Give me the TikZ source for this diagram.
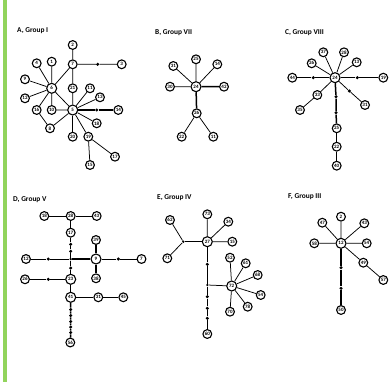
\documentclass[tikz,border=0pt]{standalone}
\usepackage{fontspec}
\setmainfont{Carlito}
\definecolor{barg}{RGB}{146,212,92}
\tikzset{
  nd/.style={circle,draw=black,line width=1.1pt,fill=white,minimum size=8.8pt,inner sep=0pt,font=\fontsize{5}{5}\selectfont\bfseries},
  hub/.style={nd,minimum size=10pt},
  dt/.style={circle,fill=black,minimum size=3.4pt,inner sep=0pt},
  ttl/.style={anchor=west,font=\fontsize{7.4}{8}\selectfont\bfseries,inner sep=0pt},
  ed/.style={line width=0.75pt},
  th/.style={line width=1.5pt}
}
\begin{document}
\begin{tikzpicture}[x=1pt,y=-1pt]
\useasboundingbox (0,0) rectangle (390,382);
\fill[barg] (3,0) rectangle (6.5,382);

% ---------- A ----------
\node[ttl] (tA) at (17,31) {A, Group I};
\node[nd] (a2) at (72.7,45) {2};
\node[nd] (a7) at (72.7,64.3) {7};
\node[dt] (ad1) at (97.7,64.3) {};
\node[nd] (a3) at (121.7,64.3) {3};
\node[nd] (a1) at (51.7,61.7) {1};
\node[nd] (a4) at (36.7,63.3) {4};
\node[hub] (a6) at (51.7,88.3) {6};
\node[nd] (a9) at (25,79.3) {9};
\node[nd] (a12) at (25,98.3) {12};
\node[nd] (a16) at (36.7,110) {16};
\node[nd] (a10) at (51.7,110) {10};
\node[nd] (a21) at (72.7,88.3) {21};
\node[nd] (a11) at (90,88.3) {11};
\node[nd] (a13) at (100,97.3) {13};
\node[hub] (a5) at (72.7,110) {5};
\node[dt] (ad2) at (96.7,110) {};
\node[nd] (a14) at (118.3,110) {14};
\node[nd] (a18) at (96.7,123.3) {18};
\node[nd] (a8) at (50,128.3) {8};
\node[nd] (a20) at (72.7,136.7) {20};
\node[nd] (a19) at (88.3,136.7) {19};
\node[nd] (a17) at (115,156.7) {17};
\node[nd] (a15) at (90,165) {15};
\draw[ed] (a2)--(a7) (a7)--(ad1)--(a3) (a7)--(a6) (a7)--(a21)--(a5);
\draw[ed] (a1)--(a6) (a4)--(a6) (a9)--(a6) (a12)--(a6) (a16)--(a6) (a6)--(a10) (a6)--(a5);
\draw[ed] (a10)--(a5) (a11)--(a5) (a13)--(a5) (a5)--(a18) (a5)--(a8) (a5)--(a19) (a16)--(a8);
\draw[th] (a5)--(ad2)--(a14) (a5)--(a20);
\draw[ed] (a19)--(a17) (a19)--(a15);

% ---------- B ----------
\node[ttl] (tB) at (155,33) {B, Group VII};
\node[hub] (b24) at (196,86.7) {24};
\node[nd] (b25) at (196,59.3) {25};
\node[nd] (b31) at (173.3,66) {31};
\node[nd] (b14) at (217.3,64.3) {14};
\node[nd] (b30) at (170,86.7) {30};
\node[nd] (b42) at (224,86.7) {42};
\node[nd] (b26) at (196.7,113.3) {26};
\node[nd] (b22) at (181.7,136.7) {22};
\node[nd] (b11) at (213.3,136.7) {11};
\draw[ed] (b24)--(b25) (b24)--(b31) (b24)--(b14) (b24)--(b30);
\draw[th] (b24)--(b42) (b24)--(b26);
\draw[ed] (b26)--(b22) (b26)--(b11);

% ---------- C ----------
\node[ttl] (tC) at (285,33) {C, Group VIII};
\node[hub] (c24) at (335,77.7) {24};
\node[nd] (c37) at (323.3,52.3) {37};
\node[nd] (c28) at (344,52.3) {28};
\node[nd] (c26) at (311.7,63.3) {26};
\node[nd] (c13) at (356.7,62.3) {13};
\node[dt] (cd1) at (313.3,77.7) {};
\node[nd] (c44) at (292.3,77.7) {44};
\node[dt] (cd2) at (357.3,77.7) {};
\node[nd] (c19) at (383.3,77.7) {19};
\node[nd] (c33) at (317.3,95) {33};
\node[nd] (c35) at (300,110) {35};
\node[dt] (cd3) at (349.3,91) {};
\node[nd] (c31) at (365,105) {31};
\node[dt] (cd4) at (336,96.7) {};
\node[dt] (cd5) at (336,112.7) {};
\node[nd] (c25) at (336.7,128.3) {25};
\node[nd] (c22) at (336.7,146.7) {22};
\node[nd] (c40) at (336.7,165.7) {40};
\draw[ed] (c24)--(c37) (c24)--(c28) (c24)--(c26) (c24)--(c13);
\draw[ed] (c24)--(cd1)--(c44) (c24)--(cd2)--(c19);
\draw[ed] (c24)--(c33)--(c35) (c24)--(cd3)--(c31);
\draw[th] (c24)--(cd4)--(cd5)--(c25);
\draw[ed] (c25)--(c22)--(c40);

% ---------- D ----------
\node[ttl] (tD) at (13,200) {D, Group V};
\node[nd] (d18) at (44.3,216) {18};
\node[nd] (d28) at (70.7,216) {28};
\node[nd] (d43) at (96.7,216) {43};
\node[nd] (d17) at (70.7,232.7) {17};
\node[dt] (dd1) at (70.7,244.3) {};
\node[dt] (dd2) at (70.7,251.3) {};
\node[dt,minimum size=2.6pt] (dj1) at (70.7,259) {};
\node[nd] (d12) at (26,259) {12};
\node[dt] (dd3) at (48.3,259) {};
\node[hub] (d9) at (96,259) {9};
\node[nd] (d39) at (96,240) {39};
\node[nd] (d38) at (96,278.3) {38};
\node[dt] (dd4) at (118.3,259) {};
\node[nd] (d7) at (141.5,259) {7};
\node[dt] (dd5) at (70.7,268) {};
\node[hub] (d23) at (70.7,279.3) {23};
\node[nd] (d26) at (25,279.3) {26};
\node[dt] (dd6) at (48.3,279.3) {};
\node[hub] (d41) at (70.7,297.3) {41};
\node[nd] (d31) at (98.3,297.3) {31};
\node[nd] (d45) at (123.3,297.3) {45};
\node[dt] (de1) at (70.7,309.5) {};
\node[dt] (de2) at (70.7,315.5) {};
\node[dt] (de3) at (70.7,321.5) {};
\node[dt] (de4) at (70.7,327) {};
\node[dt] (de5) at (70.7,332.5) {};
\node[nd] (d56) at (70.3,342.5) {56};
\draw[ed] (d18)--(d28)--(d43) (d28)--(d17);
\draw[th] (d17)--(dd1)--(dd2)--(dj1);
\draw[ed] (d12)--(dd3)--(dj1);
\draw[th] (dj1)--(d9) (d39)--(d9)--(d38);
\draw[ed] (d9)--(dd4)--(d7);
\draw[th] (dj1)--(dd5)--(d23);
\draw[th] (d26)--(dd6)--(d23);
\draw[ed] (d23)--(d41) (d41)--(d31)--(d45);
\draw[th] (d41)--(de1)--(de2)--(de3)--(de4)--(de5)--(d56);

% ---------- E ----------
\node[ttl] (tE) at (157,198) {E, Group IV};
\node[dt,minimum size=2.6pt] (ej1) at (183.3,241.7) {};
\node[nd] (e62) at (170,220) {62};
\node[nd] (e71) at (167.3,258.3) {71};
\node[hub] (e27) at (207.3,241.7) {27};
\node[nd] (e73) at (207.3,214.3) {73};
\node[nd] (e34) at (228.3,221.7) {34};
\node[nd] (e15) at (232.3,241.7) {15};
\node[dt] (ed1) at (207.3,264.3) {};
\node[dt,minimum size=2.6pt] (ej2) at (207.3,285) {};
\node[dt] (ed2) at (207.3,296.7) {};
\node[dt] (ed3) at (207.3,308.3) {};
\node[dt] (ed4) at (207.3,318.3) {};
\node[nd] (e60) at (207.3,334) {60};
\node[hub] (e72) at (231.7,286) {72};
\node[nd] (e52) at (230,257.7) {52};
\node[nd] (e61) at (245.7,263.3) {61};
\node[nd] (e68) at (257.7,275) {68};
\node[nd] (e54) at (260.7,295) {54};
\node[nd] (e78) at (247.7,306.7) {78};
\node[nd] (e70) at (230,311.7) {70};
\draw[ed] (e62)--(ej1) (e71)--(ej1);
\draw[th] (ej1)--(e27);
\draw[ed] (e27)--(e73) (e27)--(e34) (e27)--(e15);
\draw[th] (e27)--(ed1)--(ej2)--(ed2)--(ed3)--(ed4)--(e60);
\draw[ed] (ej2)--(e72);
\draw[ed] (e72)--(e52) (e72)--(e61) (e72)--(e68) (e72)--(e54) (e72)--(e78) (e72)--(e70);

% ---------- F ----------
\node[ttl] (tF) at (288,197) {F, Group III};
\node[hub] (f12) at (341,243.3) {12};
\node[nd] (f2) at (341,216.7) {2};
\node[nd] (f47) at (322.3,222.7) {47};
\node[nd] (f43) at (364.3,223.3) {43};
\node[nd] (f58) at (314.3,243.3) {58};
\node[nd] (f54) at (366.7,243.3) {54};
\node[nd] (f49) at (363.3,262.7) {49};
\node[nd] (f57) at (383.3,280) {57};
\node[dt] (fd1) at (341,267.7) {};
\node[dt] (fd2) at (341,288.3) {};
\node[nd] (f50) at (341,310) {50};
\draw[ed] (f12)--(f2) (f12)--(f47) (f12)--(f43) (f12)--(f58) (f12)--(f54);
\draw[ed] (f12)--(f49)--(f57);
\draw[th] (f12)--(fd1)--(fd2)--(f50);
\end{tikzpicture}
\end{document}
